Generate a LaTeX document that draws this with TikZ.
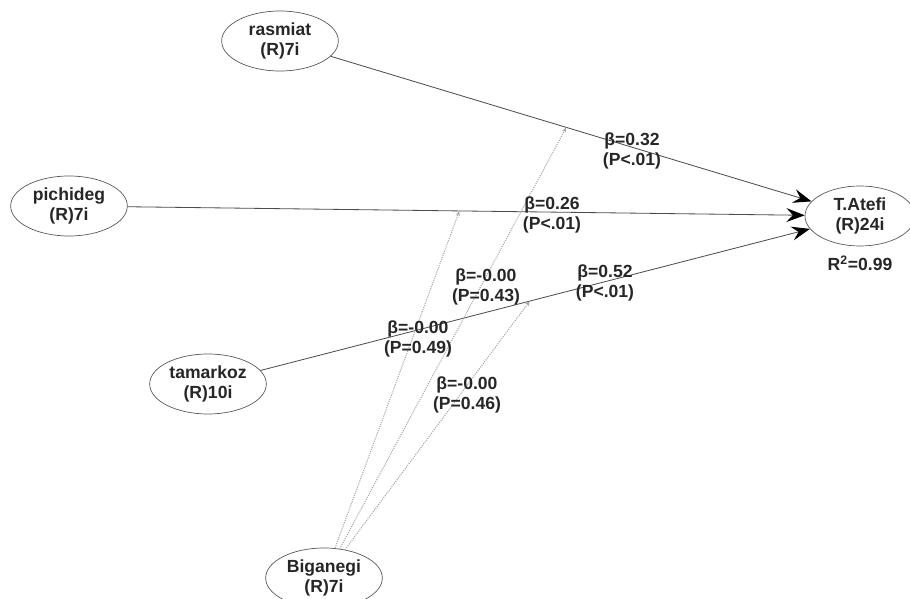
\documentclass[tikz,border=0pt]{standalone}
\usepackage{fontspec}
\setmainfont{Liberation Sans}
\usetikzlibrary{shapes.geometric,arrows.meta}

\begin{document}
\begin{tikzpicture}[x=0.03cm,y=-0.03cm,
    latent/.style={ellipse,draw=black!65,line width=0.6pt,inner sep=0pt,
        minimum width=3.5cm,minimum height=1.8cm,align=center,
        font=\bfseries\fontsize{15}{17.5}\selectfont,text=black!85},
    coef/.style={align=center,font=\bfseries\fontsize{15}{17.5}\selectfont,text=black!85},
    path/.style={draw=black!70,line width=0.7pt,-{Stealth[length=0.55cm,width=0.42cm,inset=0.2cm,black]}},
    modpath/.style={draw=black!35,line width=0.9pt,densely dotted,-{Stealth[length=0.15cm,width=0.12cm]}}]
    \useasboundingbox (0,0) rectangle (910,599);

    \node[latent] (rasmiat) at (280,41) {rasmiat\\(R)7i};
    \node[latent] (pichideg) at (69,206) {pichideg\\(R)7i};
    \node[latent] (tamarkoz) at (208,384) {tamarkoz\\(R)10i};
    \node[latent] (biganegi) at (324,578) {Biganegi\\(R)7i};
    \node[latent,minimum width=3.3cm] (atefi) at (860,216) {T.Atefi\\(R)24i};
    \node[coef] (r2) at (860,263) {R\textsuperscript{2}=0.99};

    \draw[path] (rasmiat) -- coordinate[pos=0.49] (mrasmiat) (atefi);
    \draw[path] (pichideg) -- coordinate[pos=0.49] (mpichideg) (atefi);
    \draw[path] (tamarkoz) -- coordinate[pos=0.49] (mtamarkoz) (atefi);

    \draw[modpath] (biganegi) -- (mrasmiat);
    \draw[modpath] (biganegi) -- (mpichideg);
    \draw[modpath] (biganegi) -- (mtamarkoz);

    \node[coef] (brasmiat) at (632,151) {β=0.32\\(P<.01)};
    \node[coef] (bpichideg) at (552,215) {β=0.26\\(P<.01)};
    \node[coef] (btamarkoz) at (605,283) {β=0.52\\(P<.01)};
    \node[coef] (bmpichideg) at (486,287) {β=-0.00\\(P=0.43)};
    \node[coef] (bmtamarkoz) at (418,339) {β=-0.00\\(P=0.49)};
    \node[coef] (bmrasmiat) at (467,395) {β=-0.00\\(P=0.46)};

\end{tikzpicture}
\end{document}
